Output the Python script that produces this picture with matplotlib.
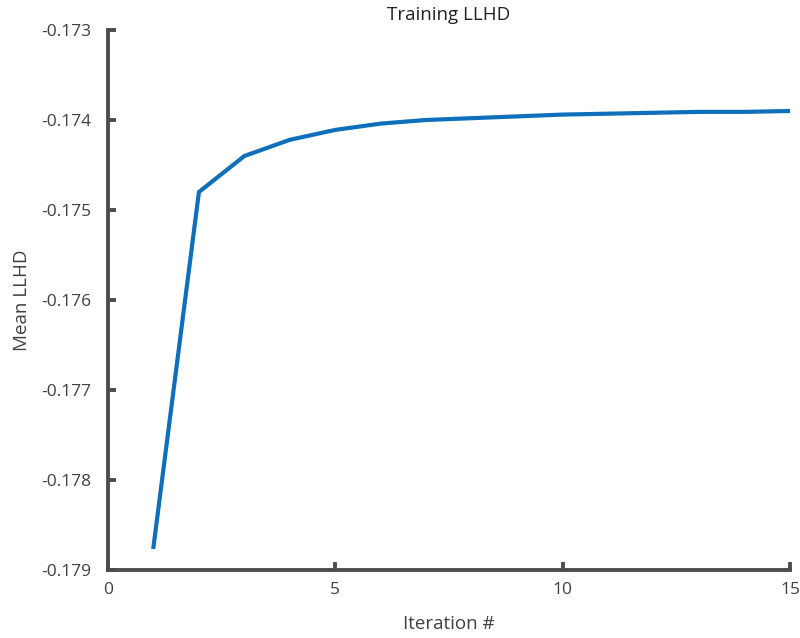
import matplotlib
matplotlib.use('Agg')
import matplotlib.pyplot as plt

# mean log-likelihood per training iteration
iterations = [1, 2, 3, 4, 5, 6, 7, 8, 9, 10, 11, 12, 13, 14, 15]
mean_llhd = [-0.178744, -0.17480, -0.17440, -0.17422, -0.17411, -0.17404, -0.17400,
             -0.17398, -0.17396, -0.17394, -0.17393, -0.17392, -0.17391, -0.17391, -0.17390]

plt.rcParams['font.family'] = ['Open Sans', 'DejaVu Sans']
text_color = '#404040'
axis_color = '#4d4d4d'

fig = plt.figure(figsize=(8, 6.38), dpi=100)
ax = fig.add_axes([0.135, 0.1066, 0.8525, 0.8464])

ax.plot(iterations, mean_llhd, color='#0f6fba', linewidth=3)

ax.set_xlim(0, 15)
ax.set_ylim(-0.179, -0.173)
ax.set_xticks([0, 5, 10, 15])
ax.set_yticks([-0.179, -0.178, -0.177, -0.176, -0.175, -0.174, -0.173])
ax.set_yticklabels(['-0.179', '-0.178', '-0.177', '-0.176', '-0.175', '-0.174', '-0.173'])

for side in ['top', 'right']:
    ax.spines[side].set_visible(False)
for side in ['left', 'bottom']:
    ax.spines[side].set_color(axis_color)
    ax.spines[side].set_linewidth(2.8)

ax.tick_params(direction='in', length=6, width=2.8, color=axis_color,
               labelcolor=text_color, labelsize=12.5)
ax.tick_params(axis='y', pad=12)
ax.tick_params(axis='x', pad=9)

ax.set_title('Training LLHD', fontsize=13.5, color='#222222', pad=7)
ax.set_xlabel('Iteration #', fontsize=13.5, color=text_color, labelpad=12)
ax.set_ylabel('Mean LLHD', fontsize=13.5, color=text_color, labelpad=7)

fig.savefig('out.png', dpi=100)
